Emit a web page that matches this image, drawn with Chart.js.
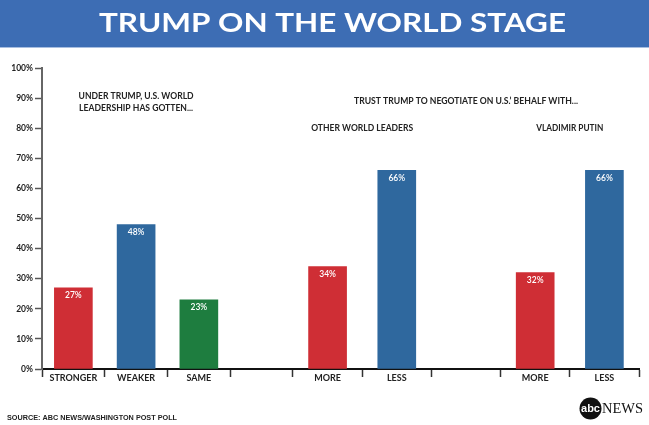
<!DOCTYPE html>
<html><head><meta charset="utf-8">
<script src="https://cdn.jsdelivr.net/npm/chart.js@4"></script>
<style>html,body{margin:0;padding:0;background:#fff}#wrap{width:649px;height:425px}</style>
</head><body><div id="wrap"><canvas id="c" width="649" height="425"></canvas></div>
<script>
// ---- data ----
const titleText = 'TRUMP ON THE WORLD STAGE';
const categories = ['STRONGER', 'WEAKER', 'SAME', '', 'MORE', 'LESS', '', 'MORE', 'LESS'];
const values = [27, 48, 23, null, 34, 66, null, 32, 66];
const yTickValues = [0, 10, 20, 30, 40, 50, 60, 70, 80, 90, 100];
const leadershipNote = ['UNDER TRUMP, U.S. WORLD', 'LEADERSHIP HAS GOTTEN...'];
const trustNote = 'TRUST TRUMP TO NEGOTIATE ON U.S.\u2019 BEHALF WITH...';
const subgroupNames = ['OTHER WORLD LEADERS', 'VLADIMIR PUTIN'];
const sourceText = 'SOURCE: ABC NEWS/WASHINGTON POST POLL';

// ---- styling / layout ----
const RED = '#cf2e35', BLUE = '#2f689e', GREEN = '#1e7d3f';
const barColors = [RED, BLUE, GREEN, null, RED, BLUE, null, RED, BLUE];
const slotWidths = [1, 1, 1, 1, 1.103, 1.103, 1.103, 1.103, 1.103];
const bounds = [0];
slotWidths.forEach(w => bounds.push(bounds[bounds.length - 1] + w));
const centers = slotWidths.map((w, i) => bounds[i] + w / 2);
const allTicks = bounds.concat(centers).sort((a, b) => a - b);
const isBoundary = v => bounds.some(b => Math.abs(b - v) < 1e-6);
const FONT = 'Lato';

const points = categories.map((c, i) => ({ x: centers[i], y: values[i] }));

function fitText(c, text, x, y, width, align) {
  const w = c.measureText(text).width;
  const sx = width / w;
  c.save();
  c.translate(x, y);
  c.scale(sx, 1);
  c.textAlign = align || 'left';
  c.fillText(text, 0, 0);
  c.restore();
}

const deco = {
  id: 'deco',
  beforeDraw(chart) {
    const c = chart.ctx;
    c.save();
    c.fillStyle = '#ffffff';
    c.fillRect(0, 0, chart.width, chart.height);
    c.fillStyle = '#3d6db4';
    c.fillRect(0, 0, chart.width, 47);
    c.fillStyle = '#a8bee0';
    c.fillRect(0, 47, chart.width, 1);
    c.fillStyle = '#ffffff';
    c.font = 'bold 26px ' + FONT;
    c.textBaseline = 'alphabetic';
    fitText(c, titleText, 332.5, 32, 467, 'center');
    c.restore();
  },
  afterDatasetsDraw(chart) {
    const c = chart.ctx;
    const meta = chart.getDatasetMeta(0);
    c.save();
    c.fillStyle = '#ffffff';
    c.font = '600 8.5px ' + FONT;
    c.textAlign = 'center';
    c.textBaseline = 'alphabetic';
    meta.data.forEach((el, i) => {
      if (values[i] == null) return;
      c.fillText(values[i] + '%', el.x, el.y + 10.5);
    });
    c.restore();
  },
  afterDraw(chart) {
    const c = chart.ctx;
    const xs = chart.scales.x;
    c.save();
    c.fillStyle = '#222222';
    c.textBaseline = 'alphabetic';
    c.textAlign = 'center';
    c.font = 'bold 8.5px ' + FONT;
    const g1 = xs.getPixelForValue((bounds[0] + bounds[3]) / 2);
    fitText(c, leadershipNote[0], g1, 98.7, 115, 'center');
    fitText(c, leadershipNote[1], g1, 111, 114, 'center');
    const gTrust = xs.getPixelForValue((bounds[4] + bounds[9]) / 2);
    fitText(c, trustNote, gTrust, 104, 224, 'center');
    fitText(c, subgroupNames[0], xs.getPixelForValue((bounds[4] + bounds[6]) / 2), 131, 102, 'center');
    fitText(c, subgroupNames[1], xs.getPixelForValue((bounds[7] + bounds[9]) / 2), 131, 67, 'center');

    // source
    c.font = 'bold 8px "Liberation Sans"';
    c.fillStyle = '#222222';
    fitText(c, sourceText, 7, 420, 170, 'left');

    // logo
    c.fillStyle = '#111111';
    c.beginPath();
    c.arc(590.5, 408.5, 11, 0, Math.PI * 2);
    c.fill();
    c.fillStyle = '#ffffff';
    c.font = 'bold 10px "Liberation Sans"';
    c.textAlign = 'center';
    fitText(c, 'abc', 590.5, 412, 19, 'center');
    c.fillStyle = '#111111';
    c.font = '15px "Liberation Serif"';
    fitText(c, 'NEWS', 602, 413, 41, 'left');
    c.restore();
  }
};

new Chart(document.getElementById('c'), {
  type: 'bar',
  data: {
    datasets: [{
      data: points,
      backgroundColor: barColors,
      borderWidth: 0,
      barThickness: 38
    }]
  },
  options: {
    responsive: false,
    animation: false,
    layout: { padding: { top: 68, left: 0, right: 10, bottom: 0 } },
    plugins: { legend: { display: false }, tooltip: { enabled: false }, title: { display: false } },
    scales: {
      x: {
        type: 'linear',
        offset: false,
        min: 0,
        max: bounds[bounds.length - 1],
        afterBuildTicks: s => { s.ticks = allTicks.map(v => ({ value: v })); },
        afterFit: s => { s.height = 56; },
        ticks: {
          autoSkip: false, maxRotation: 0, minRotation: 0, padding: -4,
          color: '#222222',
          font: { family: FONT, weight: 'bold', size: 9 },
          callback: v => {
            const i = centers.findIndex(cc => Math.abs(cc - v) < 1e-6);
            return i >= 0 ? categories[i] : '';
          }
        },
        grid: {
          offset: false,
          drawOnChartArea: false, drawTicks: true, tickLength: 8, tickWidth: 1.5,
          tickColor: ctx => (ctx.tick && isBoundary(ctx.tick.value)) ? '#333333' : 'rgba(0,0,0,0)'
        },
        border: { color: '#111111', width: 2 }
      },
      y: {
        min: 0, max: 100,
        afterBuildTicks: s => { s.ticks = yTickValues.map(v => ({ value: v })); },
        afterFit: s => { s.width = 42; },
        ticks: {
          padding: 2, color: '#222222',
          font: { family: FONT, weight: 'bold', size: 8.5 },
          callback: v => v + '%'
        },
        grid: { drawOnChartArea: false, drawTicks: true, tickLength: 7, tickWidth: 1.5, tickColor: '#555555' },
        border: { color: '#666666', width: 2 }
      }
    }
  },
  plugins: [deco]
});
</script>
</body></html>
